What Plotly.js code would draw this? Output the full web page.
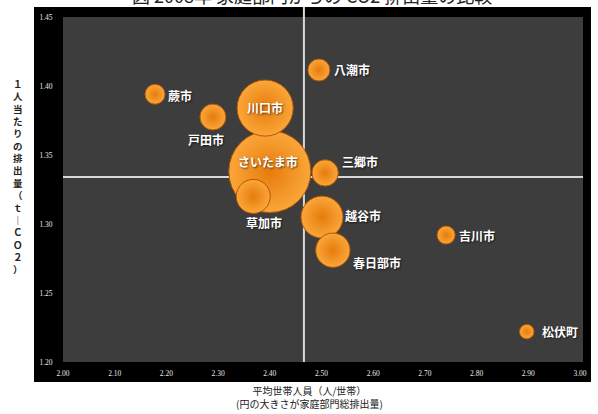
<!DOCTYPE html>
<html>
<head>
<meta charset="utf-8">
<script src="https://cdn.plot.ly/plotly-3.0.1.min.js"></script>
<style>html,body{margin:0;padding:0;background:#fff;}#chart{width:598px;height:414px;}</style>
</head>
<body>
<div id="chart"></div>
<script>
// ---- data ----
const cities = ["さいたま市","川口市","越谷市","春日部市","草加市","戸田市","三郷市","八潮市","蕨市","吉川市","松伏町"];
const householdSize = [2.400, 2.391, 2.501, 2.522, 2.368, 2.290, 2.507, 2.495, 2.178, 2.741, 2.897]; // 人/世帯
const perCapita = [1.338, 1.384, 1.305, 1.281, 1.320, 1.3775, 1.337, 1.4116, 1.394, 1.292, 1.222]; // t-CO2/人
const totalEmission = [1600, 750, 420, 280, 275, 160, 165, 115, 95, 78, 50]; // 千t-CO2 (bubble area)
const avgHouseholdSize = 2.466;
const avgPerCapita = 1.334;
const xTicks = [2.0, 2.1, 2.2, 2.3, 2.4, 2.5, 2.6, 2.7, 2.8, 2.9, 3.0];
const yTicks = [1.20, 1.25, 1.30, 1.35, 1.40, 1.45];

// ---- label placement (pixel offsets from bubble centre) ----
const labelShift = {
  "さいたま市":[-2,-10], "川口市":[0,-1], "越谷市":[41,-2], "春日部市":[44,12],
  "草加市":[11,26], "戸田市":[-7,22], "三郷市":[35,-11], "八潮市":[33,0],
  "蕨市":[25,1], "吉川市":[31,0], "松伏町":[33,0]
};

const maxDiam = 82;
const sizeref = 2 * Math.max(...totalEmission) / (maxDiam * maxDiam);

const trace = {
  type: 'scatter', mode: 'markers',
  x: householdSize, y: perCapita, text: cities,
  marker: {
    size: totalEmission, sizemode: 'area', sizeref: sizeref,
    color: '#fba63a',
    gradient: {type: 'radial', color: '#e67c0c'},
    line: {color: '#b25604', width: 1},
    opacity: 1
  },
  hoverinfo: 'text'
};

const jp = '"Noto Sans CJK JP", "Noto Sans", sans-serif';

const annotations = cities.map((c, i) => ({
  x: householdSize[i], y: perCapita[i], xref: 'x', yref: 'y',
  text: c, showarrow: false,
  xshift: labelShift[c][0], yshift: -labelShift[c][1],
  font: {family: jp, size: 12, color: '#ffffff', weight: 'bold', shadow: '1px 1px 2px rgba(0,0,0,0.6)'}
}));

// y-axis title, vertical upright characters
const yTitle = "１人当たりの排出量（ｔ｜ＣＯ２）";
annotations.push({
  xref: 'paper', yref: 'paper', x: (18 - 63) / 517, y: (362 - 177) / 345,
  xanchor: 'center', yanchor: 'middle', showarrow: false,
  text: yTitle.split('').join('<br>'),
  font: {family: jp, size: 9.5, color: '#222', weight: 'bold'}
});
// x-axis title
annotations.push({
  xref: 'paper', yref: 'paper', x: (309 - 63) / 517, y: (362 - 397) / 345,
  xanchor: 'center', yanchor: 'middle', showarrow: false,
  text: "平均世帯人員（人/世帯）<br>(円の大きさが家庭部門総排出量)",
  font: {family: jp, size: 10, color: '#222'}
});
// figure title (cut off at top edge)
annotations.push({
  xref: 'paper', yref: 'paper', x: (312 - 63) / 517, y: (362 + 5) / 345,
  xanchor: 'center', yanchor: 'middle', showarrow: false,
  text: "図 2008年 家庭部門からの CO2 排出量の比較",
  font: {family: jp, size: 18, color: '#222'}
});

const layout = {
  width: 598, height: 414,
  margin: {l: 63, r: 18, t: 17, b: 52},
  paper_bgcolor: '#ffffff', plot_bgcolor: 'rgba(0,0,0,0)',
  showlegend: false,
  xaxis: {
    range: [2.0, 3.0], tickvals: xTicks, tickformat: '.2f',
    showgrid: false, zeroline: false, showline: false,
    ticks: 'outside', ticklen: 4, tickcolor: 'rgba(0,0,0,0)',
    tickfont: {family: 'Liberation Serif, serif', size: 7.5, color: '#e8e8e8'}
  },
  yaxis: {
    range: [1.20, 1.45], tickvals: yTicks, tickformat: '.2f',
    showgrid: false, zeroline: false, showline: false,
    ticks: 'outside', ticklen: 8, tickcolor: 'rgba(0,0,0,0)',
    tickfont: {family: 'Liberation Serif, serif', size: 7.5, color: '#e8e8e8'}
  },
  shapes: [
    {type: 'rect', layer: 'below', xref: 'paper', yref: 'paper',
     x0: (34 - 63) / 517, x1: (591 - 63) / 517, y0: (362 - 382) / 345, y1: (362 - 7) / 345,
     fillcolor: '#000000', line: {width: 0}},
    {type: 'rect', layer: 'below', xref: 'paper', yref: 'paper',
     x0: 0, x1: (583 - 63) / 517, y0: 0, y1: 1,
     fillcolor: '#3d3d3d', line: {width: 0}},
    {type: 'line', layer: 'below', xref: 'x', yref: 'paper',
     x0: avgHouseholdSize, x1: avgHouseholdSize, y0: 0, y1: (362 - 7) / 345,
     line: {color: '#d8d8d8', width: 2}},
    {type: 'line', layer: 'below', xref: 'paper', yref: 'y',
     x0: 0, x1: (583 - 63) / 517, y0: avgPerCapita, y1: avgPerCapita,
     line: {color: '#d8d8d8', width: 2}}
  ],
  annotations: annotations
};

Plotly.newPlot('chart', [trace], layout, {displayModeBar: false, staticPlot: true});
</script>
</body>
</html>
